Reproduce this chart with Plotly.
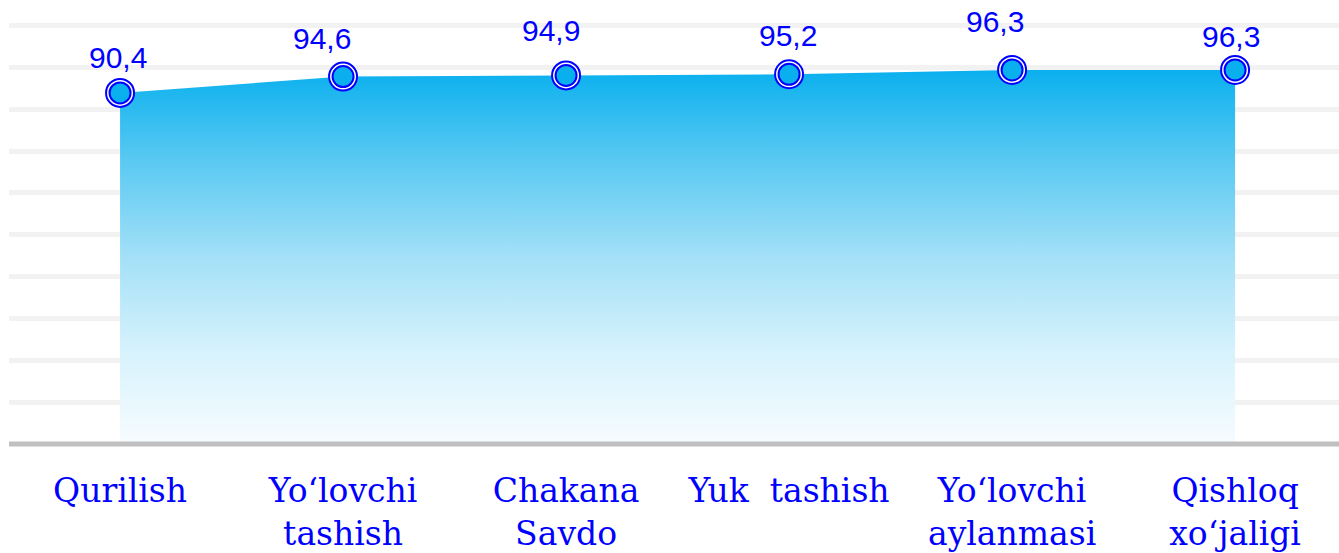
import plotly.graph_objects as go

categories = ["Qurilish", "Yo‘lovchi<br>tashish", "Chakana<br>Savdo", "Yuk  tashish",
              "Yo‘lovchi<br>aylanmasi", "Qishloq<br>xo‘jaligi"]
values = [90.4, 94.6, 94.9, 95.2, 96.3, 96.3]
value_labels = [f"{v:.1f}".replace(".", ",") for v in values]

# label placement offsets (pixels)
label_dx = [-2.5, -21, -15, -1, -17, -4]
label_dy = [35, 38, 45, 39, 48.5, 33]

BLUE = "#0000ff"
FILL_TOP = "#0ab0ee"

x_idx = list(range(len(categories)))

fig = go.Figure()
fig.add_trace(go.Scatter(
    x=x_idx, y=values, mode="lines", fill="tozeroy",
    line=dict(width=0, color=FILL_TOP),
    fillgradient=dict(type="vertical", start=0, stop=max(values),
                      colorscale=[[0, "#f7fcff"], [0.25, "#d6f2fc"], [0.5, "#a3e0f7"],
                                  [0.75, "#5ccaf2"], [1, FILL_TOP]]),
    hoverinfo="skip", showlegend=False))
fig.add_trace(go.Scatter(
    x=x_idx, y=values, mode="markers",
    marker=dict(size=28, color="white", line=dict(width=2, color=BLUE)),
    showlegend=False, hoverinfo="skip"))
fig.add_trace(go.Scatter(
    x=x_idx, y=values, mode="markers",
    marker=dict(size=21, color=FILL_TOP, line=dict(width=2, color=BLUE)),
    showlegend=False))

for i, (v, t) in enumerate(zip(values, value_labels)):
    fig.add_annotation(x=i, y=v, text=t, showarrow=False,
                       xshift=label_dx[i], yshift=label_dy[i], borderpad=0,
                       font=dict(family="Liberation Sans, Arial", size=30, color=BLUE))

fig.add_shape(type="line", xref="paper", yref="paper", x0=0, x1=1, y0=0, y1=0,
              line=dict(color="#c0c0c0", width=5), layer="above")

fig.update_xaxes(range=[-0.498, 5.466], tickmode="array", tickvals=x_idx, ticktext=categories,
                 showgrid=False, zeroline=False, showline=False, ticks="",
                 tickfont=dict(family="DejaVu Serif", size=33, color=BLUE),
                 ticklabelstandoff=24)
fig.update_yaxes(range=[0, 114.06], tick0=0, dtick=10.775, showticklabels=False,
                 showgrid=True, gridcolor="#f2f2f2", gridwidth=5, zeroline=False)

fig.update_layout(width=1339, height=553, margin=dict(l=9, r=0, t=1, b=109),
                  paper_bgcolor="white", plot_bgcolor="white")

fig.write_html("out.html", config={"displayModeBar": False},
               post_script="document.body.style.margin='0';document.body.style.overflow='hidden';")
